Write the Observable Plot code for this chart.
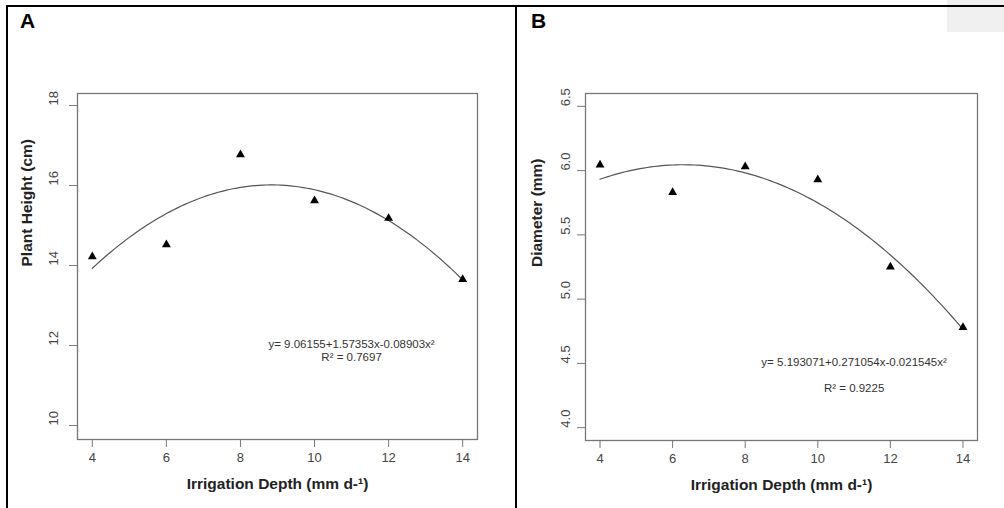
<!DOCTYPE html>
<html><head><meta charset="utf-8">
<script src="https://cdn.jsdelivr.net/npm/d3@7"></script>
<script src="https://cdn.jsdelivr.net/npm/@observablehq/plot@0.6"></script>
<style>
body{margin:0;background:#fff;font-family:"Liberation Sans",Arial,sans-serif;}
#wrap{position:relative;width:1004px;height:508px;overflow:hidden;background:#fff;}
.panel{position:absolute;top:0;}
.line{position:absolute;background:#000;}
.lab{position:absolute;font-weight:bold;font-size:21px;line-height:1;color:#000;}
</style></head><body>
<div id="wrap">
 <div style="position:absolute;left:947px;top:0;width:57px;height:32px;background:#f0f0f0"></div>
 <div id="pA" class="panel" style="left:0"></div>
 <div id="pB" class="panel" style="left:518px"></div>
 <div class="line" style="left:6px;top:5px;width:998px;height:2px"></div>
 <div class="line" style="left:6px;top:5px;width:2px;height:503px"></div>
 <div class="line" style="left:515px;top:5px;width:2px;height:503px"></div>
 <div class="lab" style="left:20px;top:10px">A</div>
 <div class="lab" style="left:531px;top:10px">B</div>
</div>
<script>
// ---- data ----
const irrigation = [4, 6, 8, 10, 12, 14];
const plantHeight = [14.22, 14.52, 16.77, 15.62, 15.18, 13.65];
const diameter = [6.045, 5.83, 6.03, 5.93, 5.25, 4.78];
const xTicks = [4, 6, 8, 10, 12, 14];
const yTicksA = [10, 12, 14, 16, 18];
const yTicksB = [4.0, 4.5, 5.0, 5.5, 6.0, 6.5];
const coefA = [9.06155, 1.57353, -0.08903];
const coefB = [5.193071, 0.271054, -0.021545];
const eqTextA = ["y= 9.06155+1.57353x-0.08903x²", "R² = 0.7697"];
const eqTextB = ["y= 5.193071+0.271054x-0.021545x²", "R² = 0.9225"];
const eqPosA = [[11, 12.03], [11, 11.70]];
const eqPosB = [[11, 4.508], [11, 4.306]];
const xTitle = "Irrigation Depth (mm d-¹)";
const yTitleA = "Plant Height (cm)";
const yTitleB = "Diameter (mm)";

function fitCurve(c) {
  return d3.range(4, 14.0001, 0.1).map(x => ({x, y: c[0] + c[1] * x + c[2] * x * x}));
}

function panel(o) {
  const pts = irrigation.map((x, i) => ({x, y: o.values[i]}));
  const ann = o.eqText.map((t, i) => ({x: o.eqPos[i][0], y: o.eqPos[i][1], t}));
  return Plot.plot({
    width: o.width, height: 508,
    marginLeft: o.ml, marginRight: o.mr, marginTop: 93, marginBottom: o.mb,
    style: {fontFamily: "'Liberation Sans', Arial, sans-serif", fontSize: "13px", color: "#444", background: "transparent"},
    x: {domain: [3.6, 14.4]},
    y: {domain: o.yDomain},
    marks: [
      Plot.frame({stroke: "#777", strokeWidth: 1.3}),
      Plot.axisX(xTicks, {tickSize: 8, tickPadding: 5, stroke: "#777", fill: "#444", fontSize: 13, label: null, tickFormat: d => String(d)}),
      Plot.axisY(o.yTicks, {tickSize: 8, tickFormat: () => "", stroke: "#777", label: null}),
      Plot.text(o.yTicks, {y: d => d, frameAnchor: "left", dx: o.tickDx, rotate: -90, text: o.fmt, fill: "#444", fontSize: 13}),
      Plot.line(fitCurve(o.coef), {x: "x", y: "y", stroke: "#555", strokeWidth: 1.2}),
      Plot.dot(pts, {x: "x", y: "y", symbol: "triangle", r: 3.3, fill: "#000", stroke: "none"}),
      Plot.text([o.yTitle], {frameAnchor: "left", dx: o.titleDx, rotate: -90, fontWeight: "bold", fontSize: 15.5, fill: "#222"}),
      Plot.text([xTitle], {frameAnchor: "bottom", dy: 49, fontWeight: "bold", fontSize: 15.5, fill: "#222"}),
      Plot.text(ann, {x: "x", y: "y", text: "t", fontSize: 11.5, fill: "#333"})
    ]
  });
}

document.getElementById("pA").append(panel({
  width: 516, ml: 77, mr: 39, mb: 69,
  values: plantHeight, yDomain: [9.65, 18.3], yTicks: yTicksA, fmt: d => String(d),
  coef: coefA, eqText: eqTextA, eqPos: eqPosA, yTitle: yTitleA, titleDx: -50, tickDx: -24
}));
document.getElementById("pB").append(panel({
  width: 486, ml: 67, mr: 27, mb: 68,
  values: diameter, yDomain: [3.9, 6.6], yTicks: yTicksB, fmt: d => d.toFixed(1),
  coef: coefB, eqText: eqTextB, eqPos: eqPosB, yTitle: yTitleB, titleDx: -48, tickDx: -20
}));
</script>
</body></html>
